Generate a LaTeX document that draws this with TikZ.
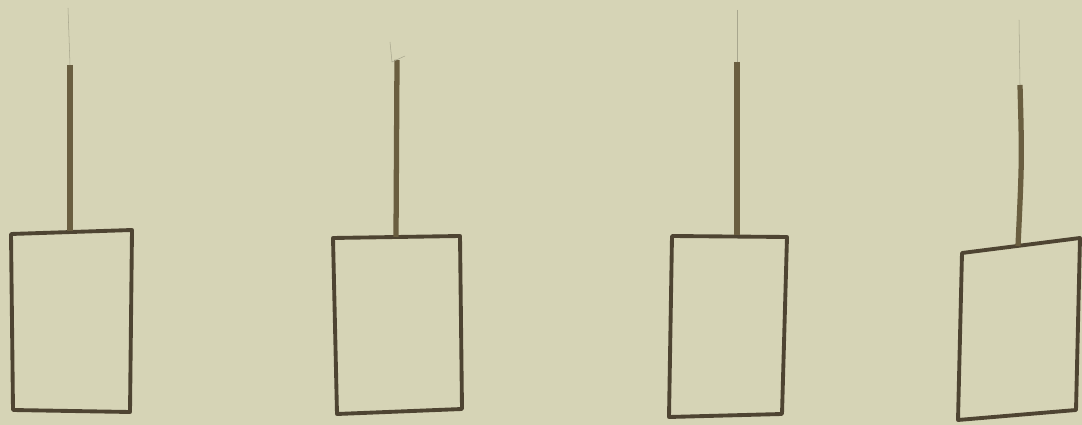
\documentclass[tikz,border=0pt]{standalone}
\usepackage{xcolor}
\usepackage{tikz}
\definecolor{paper}{HTML}{D6D4B6}
\definecolor{pencil}{HTML}{4E4432}
\definecolor{cord}{HTML}{6A5E40}
\definecolor{faint}{HTML}{A8A68E}

\begin{document}
\begin{tikzpicture}[x=0.02cm,y=-0.02cm]
\fill[paper] (0,0) rectangle (1082,425);
\useasboundingbox (0,0) rectangle (1082,425);
% first weight
\draw[line width=2.2pt,pencil,line join=round] (11,234) -- (132,230) -- (130,412) -- (13,410) -- cycle;
\coordinate (top1) at (70,231);
\draw[line width=3pt,cord] (70,65) -- (top1);
\draw[line width=0.3pt,faint] (68,8) -- (70,65);
% second weight
\draw[line width=2.2pt,pencil,line join=round] (333,238) -- (460,236) -- (462,409) -- (337,414) -- cycle;
\coordinate (top2) at (396,237);
\draw[line width=3pt,cord] (397,60) -- (top2);
\draw[line width=0.3pt,faint] (390,42) -- (392,62) -- (405,56);
% third weight
\draw[line width=2.2pt,pencil,line join=round] (672,236) -- (787,237) -- (782,414) -- (669,417) -- cycle;
\coordinate (top3) at (737,235);
\draw[line width=3pt,cord] (737,62) -- (top3);
\draw[line width=0.3pt,faint] (737,10) -- (737,62);
% fourth weight
\draw[line width=2.2pt,pencil,line join=round] (962,253) -- (1080,238) -- (1076,410) -- (958,420) -- cycle;
\coordinate (top4) at (1018,246);
\draw[line width=3pt,cord] (1020,85) .. controls (1022,160) .. (top4);
\draw[line width=0.3pt,faint] (1019,20) -- (1020,85);
\end{tikzpicture}
\end{document}
